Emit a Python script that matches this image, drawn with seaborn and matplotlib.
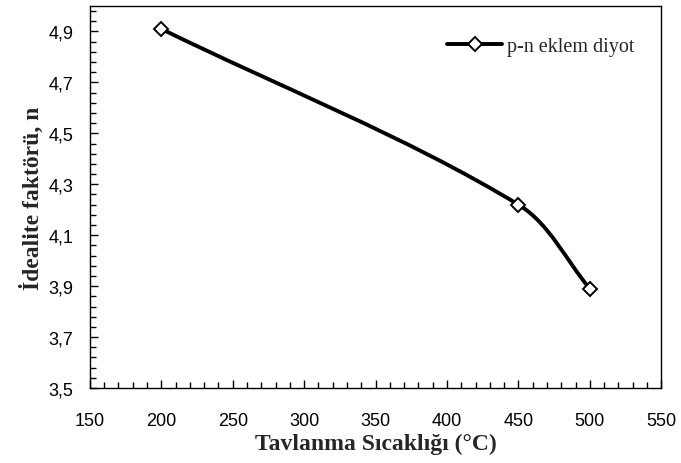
import numpy as np
import pandas as pd
import seaborn as sns
import matplotlib
matplotlib.use("Agg")
import matplotlib.pyplot as plt
from matplotlib.path import Path
from matplotlib.patches import PathPatch
from matplotlib.lines import Line2D
from matplotlib.ticker import FixedLocator, MultipleLocator, FuncFormatter

# Annealing temperature vs. ideality factor
temperature = [200, 450, 500]
ideality = [4.91, 4.22, 3.89]
series_name = "p-n eklem diyot"

x_label = "Tavlanma Sıcaklığı (°C)"
y_label = "İdealite faktörü, n"

sns.set_theme(style="white")
plt.rcParams["font.family"] = ["Liberation Sans", "DejaVu Sans"]

df = pd.DataFrame({"T": temperature, "n": ideality})

fig = plt.figure(figsize=(6.81, 4.64), dpi=100)
ax = fig.add_axes([0.132, 0.1616, 0.839, 0.8234])

ax.set_xlim(150, 550)
ax.set_ylim(3.5, 5.0)

# Smoothed connecting curve: cubic Bezier segments whose control points are
# built in screen space (tangent through neighbours, length = chord / 3)
pts_data = np.column_stack([df["T"].to_numpy(float), df["n"].to_numpy(float)])
pts = ax.transData.transform(pts_data)
npts = len(pts)
tangents = []
for i in range(npts):
    a = pts[max(i - 1, 0)]
    b = pts[min(i + 1, npts - 1)]
    d = b - a
    tangents.append(d / np.hypot(*d))
verts_disp = [pts[0]]
codes = [Path.MOVETO]
for i in range(npts - 1):
    chord = np.hypot(*(pts[i + 1] - pts[i]))
    c1 = pts[i] + tangents[i] * chord / 3.0
    c2 = pts[i + 1] - tangents[i + 1] * chord / 3.0
    verts_disp += [c1, c2, pts[i + 1]]
    codes += [Path.CURVE4] * 3
verts = ax.transData.inverted().transform(np.array(verts_disp))
curve = PathPatch(Path(verts, codes), facecolor="none", edgecolor="black",
                  linewidth=2.8, capstyle="round", joinstyle="round", zorder=2)
ax.add_patch(curve)

# Data markers
sns.lineplot(data=df, x="T", y="n", ax=ax, linestyle="", marker="D",
             markersize=7.2, markerfacecolor="white", markeredgecolor="black",
             markeredgewidth=1.4, color="black", zorder=3, legend=False)

ax.set_xlim(150, 550)
ax.set_ylim(3.5, 5.0)
ax.xaxis.set_major_locator(MultipleLocator(50))
ax.xaxis.set_minor_locator(MultipleLocator(10))
major_y = np.round(np.arange(3.5, 4.95, 0.2), 2)
minor_y = np.round(np.arange(3.5, 5.001, 0.04), 2)
ax.yaxis.set_major_locator(FixedLocator(major_y))
ax.yaxis.set_minor_locator(FixedLocator(minor_y))
ax.yaxis.set_major_formatter(FuncFormatter(lambda v, p: f"{v:.1f}".replace(".", ",")))

ax.tick_params(axis="both", which="both", direction="in", colors="black",
               left=True, bottom=True, right=False, top=False)
ax.tick_params(axis="both", which="major", length=6, width=1, labelsize=13)
ax.tick_params(axis="both", which="minor", length=4, width=1)
ax.tick_params(axis="x", which="major", pad=17)
ax.tick_params(axis="y", which="major", pad=12)

for s in ax.spines.values():
    s.set_visible(True)
    s.set_color("black")
    s.set_linewidth(1.0)

ax.set_xlabel(x_label, fontfamily="Liberation Serif", fontweight="bold",
              fontsize=17, labelpad=3)
ax.set_ylabel(y_label, fontfamily="Liberation Serif", fontweight="bold",
              fontsize=17, labelpad=3)

handle = Line2D([], [], color="black", linewidth=2.8, marker="D", markersize=7.2,
                markerfacecolor="white", markeredgecolor="black", markeredgewidth=1.4)
ax.legend([handle], [series_name], loc="center left", frameon=False,
          prop={"family": "Liberation Serif", "size": 14.5},
          handlelength=2.75, handletextpad=0.25, borderpad=0, borderaxespad=0,
          bbox_to_anchor=(0.625, 0.895))

fig.savefig("out.png", dpi=100, facecolor="white")
